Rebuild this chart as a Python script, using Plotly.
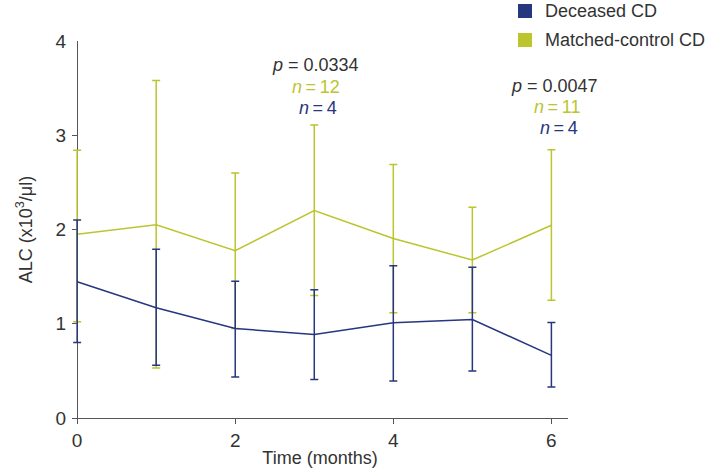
import plotly.graph_objects as go

months = [0, 1, 2, 3, 4, 5, 6]

deceased_mean = [1.445, 1.17, 0.95, 0.885, 1.01, 1.045, 0.665]
deceased_upper = [2.10, 1.79, 1.45, 1.36, 1.615, 1.60, 1.013]
deceased_lower = [0.80, 0.56, 0.435, 0.408, 0.393, 0.50, 0.33]

control_mean = [1.95, 2.05, 1.775, 2.20, 1.905, 1.676, 2.045]
control_upper = [2.84, 3.58, 2.60, 3.11, 2.69, 2.236, 2.845]
control_lower = [1.02, 0.53, 0.95, 1.30, 1.116, 1.116, 1.25]

NAVY = "#26367f"
OLIVE = "#bcc42e"
TEXT = "#333333"
AXIS = "#555555"
FONT = "Liberation Sans, Arial, sans-serif"

def err(mean, up, lo):
    return ([u - m for u, m in zip(up, mean)], [m - l for m, l in zip(mean, lo)])

fig = go.Figure()
for mean, up, lo, col, name in [
    (control_mean, control_upper, control_lower, OLIVE, "Matched-control CD"),
    (deceased_mean, deceased_upper, deceased_lower, NAVY, "Deceased CD"),
]:
    plus, minus = err(mean, up, lo)
    fig.add_trace(go.Scatter(
        x=months, y=mean, mode="lines", name=name,
        line=dict(color=col, width=1.5),
        error_y=dict(type="data", symmetric=False, array=plus, arrayminus=minus,
                     color=col, thickness=1.5, width=4),
        cliponaxis=False, showlegend=False, hoverinfo="skip",
    ))

ts = "\u2009"
ann = [
    (3.02, 3.75, "<i>p</i> = 0.0334", TEXT),
    (3.02, 3.51, f"<i>n</i>{ts}={ts}12", OLIVE),
    (3.05, 3.29, f"<i>n</i>{ts}={ts}4", NAVY),
    (6.04, 3.52, "<i>p</i> = 0.0047", TEXT),
    (6.07, 3.30, f"<i>n</i>{ts}={ts}11", OLIVE),
    (6.10, 3.08, f"<i>n</i>{ts}={ts}4", NAVY),
]
for x, y, t, c in ann:
    fig.add_annotation(x=x, y=y, text=t, showarrow=False, xref="x", yref="y",
                       font=dict(family=FONT, size=18, color=c))

# plot area in pixels (left, width, top, height)
L, W, T, H = 72, 496, 41, 377
legend_items = [("Deceased CD", NAVY, 11), ("Matched-control CD", OLIVE, 40)]
for label, col, yc in legend_items:
    fig.add_shape(type="rect", xref="paper", yref="paper",
                  x0=(518 - L) / W, x1=(532 - L) / W,
                  y0=(T + H - (yc + 7)) / H, y1=(T + H - (yc - 7)) / H,
                  fillcolor=col, line=dict(width=0))
    fig.add_annotation(x=(543 - L) / W, y=(T + H - yc) / H, xref="paper", yref="paper",
                       text=label, showarrow=False, xanchor="left", yanchor="middle",
                       font=dict(family=FONT, size=18, color=TEXT))

fig.update_layout(
    width=709, height=470,
    margin=dict(l=L, r=709 - L - W, t=T, b=470 - T - H),
    plot_bgcolor="white", paper_bgcolor="white",
    font=dict(family=FONT, size=18, color=TEXT),
    showlegend=False,
)
# x range starts slightly left of 0 so the caps at month 0 are not clipped;
# the vertical zero line serves as the y-axis line.
fig.update_xaxes(range=[-0.065, 6.21], tickvals=[0, 2, 4, 6], showgrid=False,
                 zeroline=True, zerolinecolor=AXIS, zerolinewidth=1,
                 showline=True, linecolor=AXIS, linewidth=1, ticks="outside", ticklen=5,
                 tickcolor=AXIS, tickfont=dict(size=19), automargin=False,
                 title=dict(text="Time (months)", font=dict(size=18), standoff=1))
fig.update_yaxes(range=[0, 4], tickvals=[0, 1, 2, 3, 4], showgrid=False, zeroline=False,
                 showline=False, ticks="inside", ticklen=5, ticklabelstandoff=5,
                 tickcolor=AXIS, tickfont=dict(size=19), automargin=False,
                 title=dict(text="ALC (x10<sup>3</sup>/μl)", font=dict(size=18), standoff=18))

fig.write_html("out.html", config={"displayModeBar": False},
               post_script="document.body.style.margin='0px';document.body.style.overflow='hidden';")
